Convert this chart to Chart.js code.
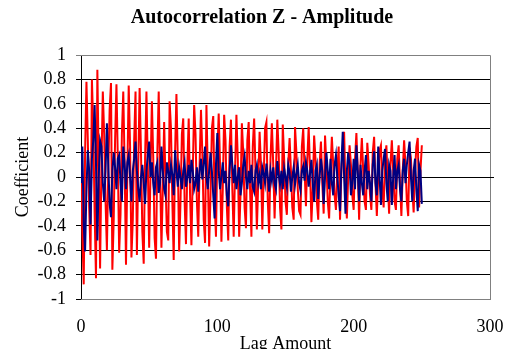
<!DOCTYPE html>
<html>
<head>
<meta charset="utf-8">
<script src="https://cdn.jsdelivr.net/npm/chart.js@4/dist/chart.umd.min.js"></script>
<style>
html,body{margin:0;padding:0;background:#fff;}
#wrap{width:512px;height:349px;}
</style>
</head>
<body>
<div id="wrap"><canvas id="c" width="512" height="349"></canvas></div>
<script>
const chartTitle = 'Autocorrelation Z - Amplitude';
const xTitle = 'Lag Amount';
const yTitle = 'Coefficient';
const xTickValues = [0, 100, 200, 300];
const yTickValues = [-1, -0.8, -0.6, -0.4, -0.2, 0, 0.2, 0.4, 0.6, 0.8, 1];

const redValues = [
 0.07,-0.45,-0.88,0.20,0.78,0.30,-0.25,-0.64,0.80,0.40,
 -0.30,-0.83,0.88,0.10,-0.75,0.10,0.70,0.35,-0.20,-0.60,
 0.05,0.55,0.77,-0.76,-0.35,0.30,0.76,0.15,-0.62,-0.30,
 0.35,0.70,0.10,-0.72,0.05,0.75,0.25,-0.66,-0.35,0.30,
 0.70,-0.64,0.10,0.73,0.20,-0.45,-0.71,0.15,0.70,0.10,
 -0.58,0.05,0.62,0.15,-0.50,-0.67,0.20,0.70,0.05,-0.58,
 -0.10,0.45,-0.05,-0.45,-0.52,0.62,0.40,-0.20,-0.68,0.20,
 0.68,0.15,-0.61,-0.20,0.35,0.48,-0.20,-0.55,0.10,0.48,
 -0.15,-0.56,0.05,0.59,0.35,-0.20,-0.49,0.10,0.55,0.20,
 -0.35,-0.54,0.59,0.05,-0.57,-0.15,0.40,0.50,-0.20,-0.49,
 0.20,0.52,0.10,-0.53,-0.10,0.51,0.30,-0.25,-0.52,0.25,
 0.47,-0.10,-0.49,0.05,0.51,0.15,-0.49,-0.15,0.44,0.20,
 -0.25,-0.42,0.30,0.45,-0.10,-0.49,0.25,0.48,0.05,-0.43,
 -0.05,0.37,0.10,-0.43,0.00,0.40,0.45,-0.20,-0.46,0.15,
 0.44,0.10,-0.34,0.05,0.47,0.20,-0.25,-0.43,0.43,0.15,
 -0.20,-0.31,0.10,0.32,0.05,-0.25,-0.35,0.41,0.20,-0.10,
 -0.28,-0.31,0.25,0.40,0.05,-0.24,0.15,0.41,0.05,-0.37,
 -0.10,0.34,0.15,-0.20,-0.35,0.10,0.29,-0.05,-0.30,0.34,
 0.10,-0.20,-0.34,0.05,0.33,0.10,-0.15,-0.27,0.05,0.25,
 -0.35,0.05,0.25,0.37,-0.10,-0.34,0.00,0.26,0.10,-0.15,
 -0.27,0.15,0.36,0.05,-0.35,0.10,0.32,0.05,-0.20,-0.27,
 0.28,0.10,-0.15,-0.27,0.20,0.33,-0.05,-0.32,0.00,0.22,
 0.26,-0.10,-0.25,0.15,0.26,-0.05,-0.30,0.10,0.30,0.05,
 -0.20,-0.27,0.15,0.26,-0.05,-0.32,0.05,0.30,0.10,-0.20,
 -0.32,0.24,0.15,-0.10,-0.29,0.05,0.25,0.32,-0.25,0.05,
 0.26
];

const blueValues = [
 -0.05,0.25,-0.40,-0.61,-0.10,0.22,0.05,-0.39,0.15,0.30,
 0.59,0.10,-0.52,0.00,0.30,0.25,-0.05,-0.20,0.05,0.44,
 0.10,-0.22,-0.33,0.05,0.20,0.08,-0.10,0.15,0.18,-0.05,
 -0.20,0.25,0.10,-0.10,0.12,0.18,0.00,-0.20,0.05,0.15,
 0.29,0.05,-0.10,-0.20,0.00,0.10,-0.05,-0.22,0.05,0.18,
 0.29,0.00,0.12,-0.05,-0.15,0.08,0.12,-0.13,-0.05,0.25,
 0.05,-0.10,-0.15,0.12,0.05,-0.05,0.10,0.02,-0.15,0.22,
 0.05,-0.08,0.08,0.00,-0.10,0.05,0.12,-0.08,0.00,0.10,
 -0.05,0.14,0.05,-0.10,-0.05,0.08,-0.12,0.05,0.15,-0.02,
 0.10,0.25,0.00,-0.10,0.05,0.20,0.05,-0.15,-0.34,0.10,
 0.36,0.05,-0.10,0.00,0.12,-0.05,0.05,-0.15,-0.24,0.05,
 0.26,0.10,-0.05,0.10,-0.10,0.00,0.08,-0.15,-0.05,0.10,
 0.17,0.00,-0.10,0.05,-0.05,0.10,-0.08,-0.12,0.05,0.10,
 -0.05,0.02,-0.10,0.08,0.03,-0.05,0.11,0.00,-0.12,0.05,
 -0.03,0.08,-0.05,-0.10,0.13,0.02,-0.06,0.05,-0.10,0.07,
 0.00,-0.08,0.10,0.04,-0.12,0.00,0.08,-0.06,0.03,0.10,
 -0.05,-0.11,0.05,0.09,-0.03,0.12,0.05,-0.08,0.03,0.14,
 -0.05,-0.20,0.05,0.10,-0.18,0.00,0.15,0.05,-0.22,0.00,
 0.20,0.05,-0.10,0.15,-0.05,-0.15,0.10,0.18,0.00,-0.15,
 -0.28,0.10,0.37,0.00,-0.30,0.05,0.20,0.10,-0.15,-0.05,
 0.15,-0.10,0.26,0.05,-0.20,0.10,-0.05,-0.15,0.05,0.18,
 -0.10,0.05,-0.05,-0.20,0.10,0.21,-0.05,-0.15,0.25,0.00,
 -0.23,0.05,0.15,0.23,-0.05,-0.20,0.10,0.05,-0.23,0.00,
 0.18,-0.10,0.05,0.10,-0.10,-0.20,0.05,0.15,-0.05,0.10,
 0.20,0.29,0.00,-0.20,0.05,0.15,-0.10,-0.28,0.10,0.05,
 -0.22
];

const lags = redValues.map((_, i) => i);

const serif = "'Liberation Serif', 'Times New Roman', serif";

const framePlugin = {
  id: 'frame',
  afterDatasetsDraw(chart) {
    const a = chart.chartArea, ctx = chart.ctx;
    ctx.save();
    ctx.strokeStyle = '#808080';
    ctx.lineWidth = 1;
    ctx.beginPath();
    ctx.moveTo(a.left, a.top + 0.5);
    ctx.lineTo(a.right + 0.5, a.top + 0.5);
    ctx.lineTo(a.right + 0.5, a.bottom + 0.5);
    ctx.lineTo(a.left, a.bottom + 0.5);
    ctx.stroke();
    const y0 = chart.scales.y.getPixelForValue(0);
    ctx.strokeStyle = '#000';
    ctx.beginPath();
    ctx.moveTo(a.right, Math.round(y0) + 0.5);
    ctx.lineTo(a.right + 4, Math.round(y0) + 0.5);
    ctx.stroke();
    ctx.restore();
  }
};

new Chart(document.getElementById('c'), {
  type: 'line',
  data: {
    datasets: [
      {
        label: 'Blue',
        data: lags.map((x, i) => ({x: x, y: blueValues[i]})),
        borderColor: '#000080',
        borderWidth: 2,
        pointRadius: 0,
        tension: 0,
        fill: false
      },
      {
        label: 'Red',
        data: lags.map((x, i) => ({x: x, y: redValues[i]})),
        borderColor: '#ff0000',
        borderWidth: 2,
        pointRadius: 0,
        tension: 0,
        fill: false
      }
    ]
  },
  options: {
    responsive: false,
    animation: false,
    devicePixelRatio: 1,
    layout: {padding: {left: 12, right: 0, top: 0, bottom: 0}},
    plugins: {
      legend: {display: false},
      tooltip: {enabled: false},
      title: {
        display: true,
        text: chartTitle,
        color: '#000',
        font: {family: serif, size: 20, weight: 'bold', lineHeight: 1.2},
        padding: {top: 6, bottom: 25}
      }
    },
    scales: {
      x: {
        type: 'linear',
        min: 0, max: 300,
        afterBuildTicks: s => { s.ticks = xTickValues.map(v => ({value: v})); },
        ticks: {color: '#000', font: {family: serif, size: 18}, padding: 17, maxRotation: 0, autoSkip: false},
        grid: {display: false, drawTicks: false},
        border: {display: true, color: '#808080'},
        title: {display: true, text: xTitle, color: '#000', font: {family: serif, size: 18}, padding: {top: 0, bottom: -6}},
        afterFit: s => { s.height = 50; s.paddingRight = 22; }
      },
      y: {
        min: -1, max: 1,
        afterBuildTicks: s => { s.ticks = yTickValues.map(v => ({value: v})); },
        ticks: {color: '#000', font: {family: serif, size: 18}, padding: 10, autoSkip: false,
                callback: v => String(Math.round(v * 10) / 10)},
        grid: {color: ctx => (ctx.tick && ctx.tick.value === 1) ? '#808080' : '#000', lineWidth: 1, tickLength: 5, drawTicks: true},
        border: {display: true, color: '#000', width: 1},
        title: {display: true, text: yTitle, color: '#000', font: {family: serif, size: 18}, padding: 0},
        afterFit: s => { s.width = 69; }
      }
    }
  },
  plugins: [framePlugin]
});
</script>
</body>
</html>
